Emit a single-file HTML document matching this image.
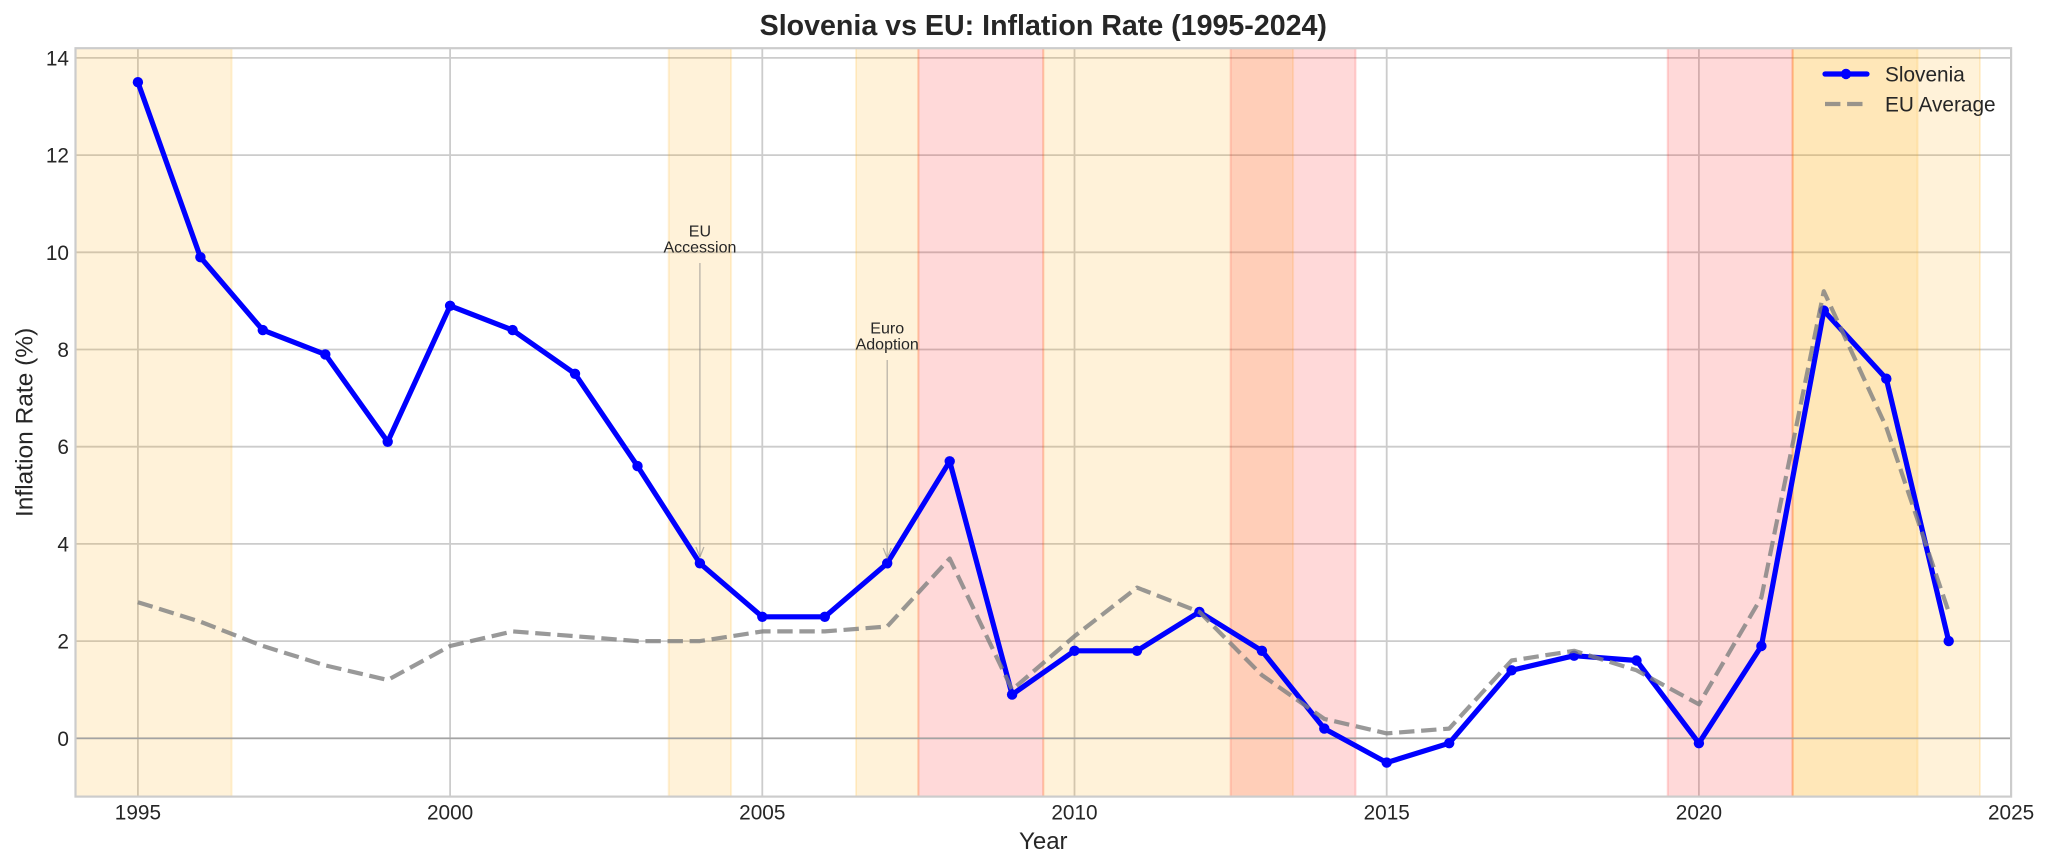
<!DOCTYPE html>
<html>
<head>
<meta charset="utf-8">
<style>
html,body{margin:0;padding:0;background:#ffffff;}
svg{display:block;}
text{font-family:"Liberation Sans", Arial, sans-serif; fill:#262626;}
</style>
</head>
<body>
<svg xmlns="http://www.w3.org/2000/svg" width="2048" height="868" viewBox="0 0 2048 868">
  <defs>
    <clipPath id="plot">
      <rect x="75.5" y="48.2" width="1935.6" height="748.4"/>
    </clipPath>
  </defs>
  <rect x="0" y="0" width="2048" height="868" fill="#ffffff"/>

  <!-- grid -->
  <g stroke="#cccccc" stroke-width="1.8" fill="none">
    <line x1="75.5" y1="738.3" x2="2011.1" y2="738.3"/>
    <line x1="75.5" y1="641.1" x2="2011.1" y2="641.1"/>
    <line x1="75.5" y1="543.9" x2="2011.1" y2="543.9"/>
    <line x1="75.5" y1="446.7" x2="2011.1" y2="446.7"/>
    <line x1="75.5" y1="349.5" x2="2011.1" y2="349.5"/>
    <line x1="75.5" y1="252.3" x2="2011.1" y2="252.3"/>
    <line x1="75.5" y1="155.1" x2="2011.1" y2="155.1"/>
    <line x1="75.5" y1="57.9" x2="2011.1" y2="57.9"/>
    <line x1="137.9" y1="48.2" x2="137.9" y2="796.6"/>
    <line x1="450.1" y1="48.2" x2="450.1" y2="796.6"/>
    <line x1="762.3" y1="48.2" x2="762.3" y2="796.6"/>
    <line x1="1074.5" y1="48.2" x2="1074.5" y2="796.6"/>
    <line x1="1386.7" y1="48.2" x2="1386.7" y2="796.6"/>
    <line x1="1698.9" y1="48.2" x2="1698.9" y2="796.6"/>
    <line x1="2011.1" y1="48.2" x2="2011.1" y2="796.6"/>
  </g>

  <!-- spans -->
  <g clip-path="url(#plot)" stroke-width="2">
    <g fill="#FFA500" fill-opacity="0.15" stroke="#FFA500" stroke-opacity="0.15">
      <rect x="70" y="40" width="161.6" height="770"/>
      <rect x="668.7" y="40" width="62.4" height="770"/>
      <rect x="856.0" y="40" width="62.4" height="770"/>
      <rect x="1043.3" y="40" width="249.8" height="770"/>
      <rect x="1792.6" y="40" width="124.9" height="770"/>
      <rect x="1792.6" y="40" width="187.4" height="770"/>
    </g>
    <g fill="#FF0000" fill-opacity="0.15" stroke="#FF0000" stroke-opacity="0.15">
      <rect x="918.4" y="40" width="124.9" height="770"/>
      <rect x="1230.6" y="40" width="124.9" height="770"/>
      <rect x="1667.7" y="40" width="124.9" height="770"/>
    </g>
  </g>

  <!-- zero line -->
  <line x1="75.5" y1="738.3" x2="2011.1" y2="738.3" stroke="#a3a3a3" stroke-width="1.7"/>

  <!-- Slovenia -->
  <g clip-path="url(#plot)">
    <polyline fill="none" stroke="#0000ff" stroke-width="5.2" stroke-linejoin="round" stroke-linecap="round"
      points="137.9,82.2 200.4,257.2 262.8,330.1 325.3,354.4 387.7,441.8 450.1,305.8 512.6,330.1 575.0,373.8 637.5,466.1 699.9,563.3 762.3,616.8 824.8,616.8 887.2,563.3 949.7,461.3 1012.1,694.6 1074.5,650.8 1137.0,650.8 1199.4,611.9 1261.9,650.8 1324.3,728.6 1386.7,762.6 1449.2,743.2 1511.6,670.3 1574.1,655.7 1636.5,660.5 1698.9,743.2 1761.4,646.0 1823.8,310.6 1886.3,378.7 1948.7,641.1"/>
    <g fill="#0000ff">
      <circle cx="137.9" cy="82.2" r="5.2"/><circle cx="200.4" cy="257.2" r="5.2"/><circle cx="262.8" cy="330.1" r="5.2"/>
      <circle cx="325.3" cy="354.4" r="5.2"/><circle cx="387.7" cy="441.8" r="5.2"/><circle cx="450.1" cy="305.8" r="5.2"/>
      <circle cx="512.6" cy="330.1" r="5.2"/><circle cx="575.0" cy="373.8" r="5.2"/><circle cx="637.5" cy="466.1" r="5.2"/>
      <circle cx="699.9" cy="563.3" r="5.2"/><circle cx="762.3" cy="616.8" r="5.2"/><circle cx="824.8" cy="616.8" r="5.2"/>
      <circle cx="887.2" cy="563.3" r="5.2"/><circle cx="949.7" cy="461.3" r="5.2"/><circle cx="1012.1" cy="694.6" r="5.2"/>
      <circle cx="1074.5" cy="650.8" r="5.2"/><circle cx="1137.0" cy="650.8" r="5.2"/><circle cx="1199.4" cy="611.9" r="5.2"/>
      <circle cx="1261.9" cy="650.8" r="5.2"/><circle cx="1324.3" cy="728.6" r="5.2"/><circle cx="1386.7" cy="762.6" r="5.2"/>
      <circle cx="1449.2" cy="743.2" r="5.2"/><circle cx="1511.6" cy="670.3" r="5.2"/><circle cx="1574.1" cy="655.7" r="5.2"/>
      <circle cx="1636.5" cy="660.5" r="5.2"/><circle cx="1698.9" cy="743.2" r="5.2"/><circle cx="1761.4" cy="646.0" r="5.2"/>
      <circle cx="1823.8" cy="310.6" r="5.2"/><circle cx="1886.3" cy="378.7" r="5.2"/><circle cx="1948.7" cy="641.1" r="5.2"/>
    </g>
    <!-- EU average -->
    <polyline fill="none" stroke="#808080" stroke-opacity="0.8" stroke-width="4.2" stroke-dasharray="15.4 6.7" stroke-linejoin="round"
      points="137.9,602.2 200.4,621.7 262.8,646.0 325.3,665.4 387.7,680.0 450.1,646.0 512.6,631.4 575.0,636.2 637.5,641.1 699.9,641.1 762.3,631.4 824.8,631.4 887.2,626.5 949.7,558.5 1012.1,689.7 1074.5,636.2 1137.0,587.6 1199.4,611.9 1261.9,675.1 1324.3,718.9 1386.7,733.4 1449.2,728.6 1511.6,660.5 1574.1,650.8 1636.5,670.3 1698.9,704.3 1761.4,597.4 1823.8,291.2 1886.3,427.3 1948.7,611.9"/>
  </g>

  <!-- annotations -->
  <g stroke="#808080" stroke-opacity="0.55" stroke-width="1.3" fill="none">
    <line x1="699.9" y1="263" x2="699.9" y2="557"/>
    <polyline points="695.9,547 699.9,557 703.9,547"/>
    <line x1="887.2" y1="360" x2="887.2" y2="558"/>
    <polyline points="883.2,548 887.2,558 891.2,548"/>
  </g>
  <g font-size="16" text-anchor="middle">
    <text x="699.9" y="236.3">EU</text>
    <text x="699.9" y="252.3">Accession</text>
    <text x="887.2" y="333.3">Euro</text>
    <text x="887.2" y="349.3">Adoption</text>
  </g>

  <!-- spines -->
  <rect x="75.5" y="48.2" width="1935.6" height="748.4" fill="none" stroke="#cccccc" stroke-width="2.2"/>

  <!-- y tick labels -->
  <g font-size="20.8" text-anchor="end">
    <text x="69" y="745.8">0</text>
    <text x="69" y="648.6">2</text>
    <text x="69" y="551.4">4</text>
    <text x="69" y="454.2">6</text>
    <text x="69" y="357.0">8</text>
    <text x="69" y="259.8">10</text>
    <text x="69" y="162.6">12</text>
    <text x="69" y="65.4">14</text>
  </g>

  <!-- x tick labels -->
  <g font-size="20.8" text-anchor="middle">
    <text x="137.9" y="819.5">1995</text>
    <text x="450.1" y="819.5">2000</text>
    <text x="762.3" y="819.5">2005</text>
    <text x="1074.5" y="819.5">2010</text>
    <text x="1386.7" y="819.5">2015</text>
    <text x="1698.9" y="819.5">2020</text>
    <text x="2011.1" y="819.5">2025</text>
  </g>

  <!-- axis labels -->
  <text x="1043.3" y="849" font-size="24" text-anchor="middle">Year</text>
  <text transform="translate(32.5,422.4) rotate(-90)" font-size="24.5" text-anchor="middle">Inflation Rate (%)</text>

  <!-- title -->
  <text x="1043.3" y="35" font-size="28.6" font-weight="bold" text-anchor="middle">Slovenia vs EU: Inflation Rate (1995-2024)</text>

  <!-- legend -->
  <line x1="1825" y1="74" x2="1867" y2="74" stroke="#0000ff" stroke-width="5.2" stroke-linecap="round"/>
  <circle cx="1846" cy="74" r="5.2" fill="#0000ff"/>
  <text x="1885" y="81.5" font-size="20.8">Slovenia</text>
  <line x1="1825" y1="104" x2="1867" y2="104" stroke="#808080" stroke-opacity="0.8" stroke-width="4.2" stroke-dasharray="15.4 6.7"/>
  <text x="1885" y="111.5" font-size="20.8">EU Average</text>
</svg>
</body>
</html>
